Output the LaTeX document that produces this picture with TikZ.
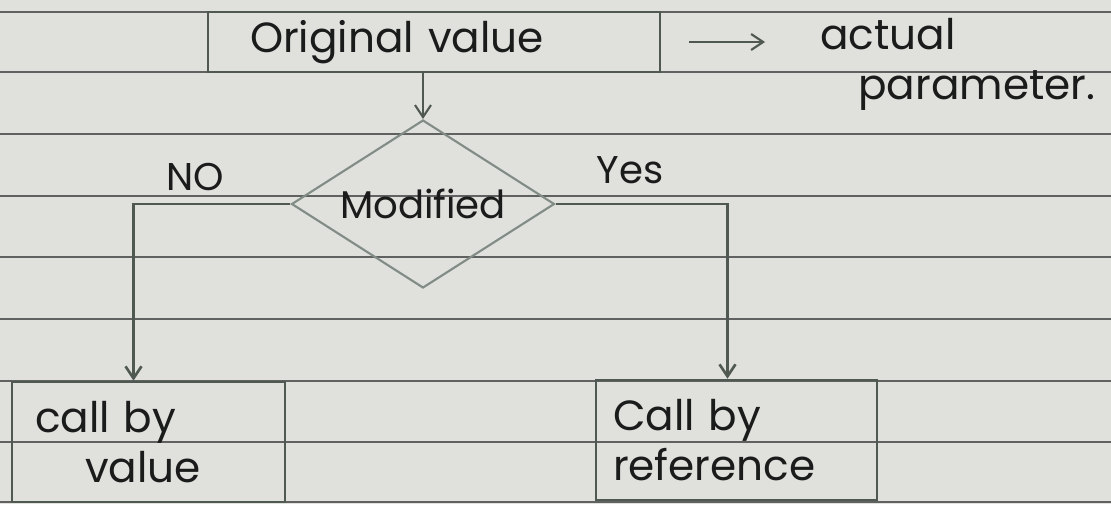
\documentclass[tikz,border=0pt]{standalone}
\usepackage{fontspec}
\setmainfont{Poppins}
\usetikzlibrary{shapes.geometric,arrows.meta}
\definecolor{paper}{RGB}{224,224,221}
\definecolor{ruling}{RGB}{95,98,96}
\definecolor{ink}{RGB}{25,28,26}
\definecolor{pencil}{RGB}{80,88,82}
\definecolor{lightpencil}{RGB}{130,140,134}
\begin{document}
\begin{tikzpicture}[x=0.02cm,y=-0.02cm,
  box/.style={draw=pencil, line width=1.5pt, rectangle, inner sep=0pt},
  txt/.style={text=ink, font=\fontsize{24}{28.5}\selectfont},
  lbl/.style={text=ink, font=\fontsize{22}{26}\selectfont},
  arr/.style={draw=pencil, line width=1.2pt, -{Straight Barb[length=2.4mm,width=3.2mm]}},
  ]
\fill[paper] (0,0) rectangle (1111,504);
\useasboundingbox (0,0) rectangle (1111,504);
\foreach \y in {12,72,134,196,257,319,381,442,502}
  \draw[ruling, line width=0.9pt] (0,\y) -- (1111,\y);

\node[box, txt, minimum width=9.04cm, minimum height=1.2cm, text width=7.36cm,
      inner xsep=0.84cm, align=left] (orig) at (434,42) {Original value};
\node[diamond, draw=lightpencil, line width=1.2pt, lbl, inner sep=0pt, aspect=1.6,
      minimum width=5.26cm, minimum height=3.36cm] (mod) at (423,204) {Modified};
\node[box, txt, minimum width=5.46cm, minimum height=2.4cm, text width=4.54cm,
      inner xsep=0.46cm, align=left] (cbv) at (148.5,442) {call by\\\hspace{1cm}value};
\node[box, txt, minimum width=5.62cm, minimum height=2.4cm, text width=4.94cm,
      inner xsep=0.34cm, align=left] (ref) at (736.5,440) {Call by\\reference};
\node[txt, anchor=north west, align=left, inner sep=0pt] (ap) at (820,18)
      {actual\\\hspace{0.76cm}parameter.};
\node[lbl] (no) at (195,177) {NO};
\node[lbl] (yes) at (630,170) {Yes};

\draw[arr] (mod.north |- orig.south) -- (mod.north);
\draw[arr, shorten <=0.56cm, shorten >=1.1cm] (orig.east) -- (orig.east -| ap.west);
\draw[arr, line width=1.5pt] (mod.west) -| ([xshift=-0.3cm]cbv.north);
\draw[arr, line width=1.5pt] (mod.east) -| ([xshift=-0.18cm]ref.north);
\end{tikzpicture}
\end{document}
